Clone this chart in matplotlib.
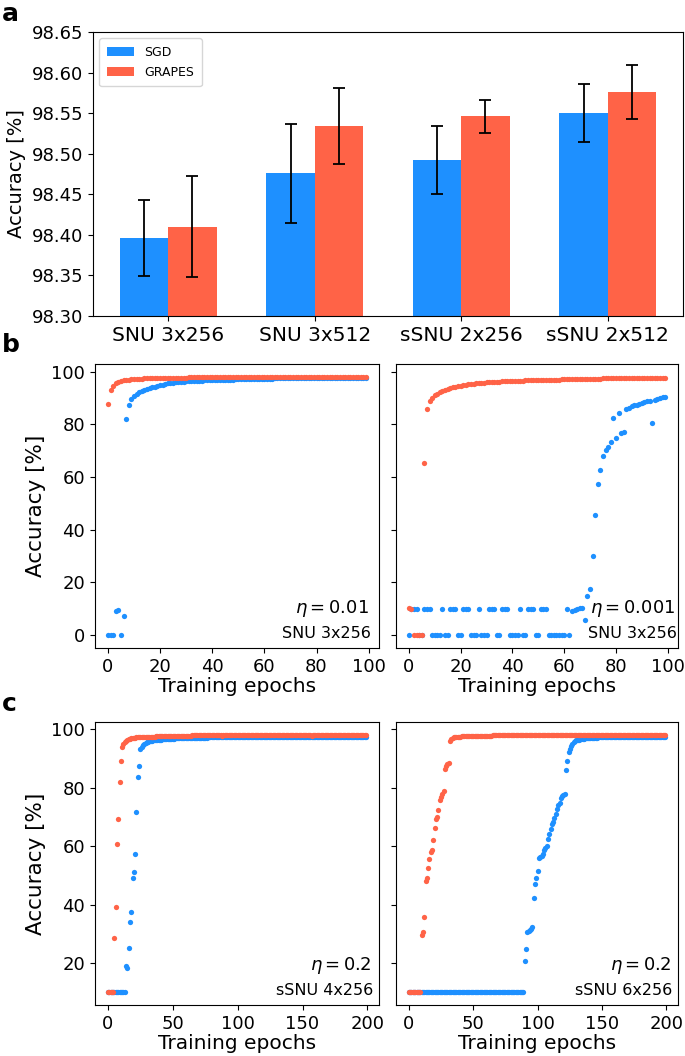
import numpy as np
import matplotlib
matplotlib.use('Agg')
import matplotlib.pyplot as plt

# ---- panel a: final accuracy ----
cats = ['SNU 3x256', 'SNU 3x512', 'sSNU 2x256', 'sSNU 2x512']
sgd_mean = [98.396, 98.476, 98.492, 98.550]
sgd_err = [0.047, 0.061, 0.042, 0.036]
grapes_mean = [98.410, 98.534, 98.546, 98.576]
grapes_err = [0.062, 0.047, 0.020, 0.033]

# ---- panel b: SNU 3x256, 100 epochs ----
b1_sgd = [
    0.0, 0.0, 0.0, 9.0, 9.6, 0.0, 7.3, 82.0, 87.3, 89.7,
    90.9, 91.6, 92.1, 92.6, 93.0, 93.3, 93.7, 94.0, 94.3, 94.6,
    94.9, 95.1, 95.3, 95.5, 95.6, 95.8, 95.9, 96.0, 96.1, 96.2,
    96.3, 96.3, 96.4, 96.5, 96.5, 96.6, 96.6, 96.7, 96.7, 96.8,
    96.8, 96.8, 96.9, 96.9, 96.9, 97.0, 97.0, 97.0, 97.0, 97.1,
    97.1, 97.1, 97.1, 97.2, 97.2, 97.2, 97.2, 97.2, 97.3, 97.3,
    97.3, 97.3, 97.3, 97.3, 97.4, 97.4, 97.4, 97.4, 97.4, 97.4,
    97.4, 97.5, 97.5, 97.5, 97.5, 97.5, 97.5, 97.5, 97.5, 97.6,
    97.6, 97.6, 97.6, 97.6, 97.6, 97.6, 97.6, 97.6, 97.6, 97.6,
    97.6, 97.6, 97.6, 97.7, 97.7, 97.7, 97.7, 97.7, 97.7, 97.7]
b1_grapes = [
    87.8, 92.9, 94.6, 95.7, 96.2, 96.5, 96.7, 96.9, 97.0, 97.1,
    97.2, 97.2, 97.3, 97.3, 97.4, 97.4, 97.4, 97.5, 97.5, 97.5,
    97.5, 97.6, 97.6, 97.6, 97.6, 97.7, 97.7, 97.7, 97.7, 97.7,
    97.7, 97.8, 97.8, 97.8, 97.8, 97.8, 97.8, 97.8, 97.8, 97.8,
    97.8, 97.8, 97.8, 97.8, 97.8, 97.8, 97.8, 97.8, 97.8, 97.8,
    97.8, 97.9, 97.9, 97.9, 97.9, 97.9, 97.9, 97.9, 97.9, 97.9,
    97.9, 97.9, 97.9, 97.9, 97.9, 97.9, 97.9, 97.9, 97.9, 97.9,
    98.0, 98.0, 98.0, 98.0, 98.0, 98.0, 98.0, 98.0, 98.0, 98.0,
    98.0, 98.0, 98.0, 98.0, 98.0, 98.0, 98.0, 98.0, 98.0, 98.0,
    98.0, 98.0, 98.0, 98.0, 98.0, 98.0, 98.0, 98.0, 98.0, 98.0]
b2_sgd = [
    0.0, 9.8, 9.8, 9.8, 0.0, 0.0, 9.8, 9.8, 9.8, 0.0,
    0.0, 0.0, 0.0, 9.8, 0.0, 0.0, 9.8, 9.8, 9.8, 0.0,
    0.0, 9.8, 9.8, 9.8, 0.0, 0.0, 0.0, 9.8, 0.0, 0.0,
    0.0, 9.8, 9.8, 9.8, 0.0, 0.0, 9.8, 9.8, 9.8, 0.0,
    0.0, 0.0, 0.0, 9.8, 0.0, 0.0, 9.8, 9.8, 9.8, 0.0,
    0.0, 9.8, 9.8, 9.8, 0.0, 0.0, 0.0, 0.0, 0.0, 0.0,
    0.0, 9.8, 0.0, 9.0, 9.4, 9.9, 10.1, 10.3, 5.8, 15.0,
    17.5, 30.2, 45.4, 57.5, 62.8, 67.9, 70.4, 71.4, 73.2, 82.5,
    74.9, 84.4, 76.8, 77.0, 85.9, 86.3, 86.8, 87.2, 87.5, 87.8,
    88.2, 88.5, 88.7, 89.0, 80.6, 89.4, 89.7, 90.0, 90.2, 90.3]
b2_grapes = [
    10.2, 9.8, 0.0, 0.0, 0.0, 0.0, 65.4, 85.9, 88.7, 90.1,
    91.0, 91.7, 92.3, 92.8, 93.2, 93.5, 93.8, 94.1, 94.3, 94.5,
    94.7, 94.9, 95.0, 95.2, 95.3, 95.4, 95.5, 95.6, 95.7, 95.8,
    95.9, 96.0, 96.0, 96.1, 96.2, 96.2, 96.3, 96.3, 96.4, 96.4,
    96.5, 96.5, 96.6, 96.6, 96.6, 96.7, 96.7, 96.7, 96.8, 96.8,
    96.8, 96.9, 96.9, 96.9, 96.9, 97.0, 97.0, 97.0, 97.0, 97.1,
    97.1, 97.1, 97.1, 97.1, 97.2, 97.2, 97.2, 97.2, 97.2, 97.3,
    97.3, 97.3, 97.3, 97.3, 97.3, 97.4, 97.4, 97.4, 97.4, 97.4,
    97.4, 97.5, 97.5, 97.5, 97.5, 97.5, 97.5, 97.5, 97.6, 97.6,
    97.6, 97.6, 97.6, 97.6, 97.6, 97.7, 97.7, 97.7, 97.7, 97.7]

# ---- panel c: sSNU 4x256 / 6x256, 200 epochs ----
c1_sgd = [
    10.1, 10.1, 10.1, 10.1, 10.1, 10.1, 10.1, 10.1, 10.1, 10.1, 10.1, 10.1, 10.1, 10.1, 18.9, 18.3, 25.1, 34.2, 37.6, 49.1,
    51.2, 57.4, 71.7, 83.5, 87.2, 93.1, 94.0, 94.6, 95.0, 95.3, 95.5, 95.7, 95.8, 95.9, 96.0, 96.1, 96.2, 96.2, 96.3, 96.3,
    96.4, 96.4, 96.5, 96.5, 96.5, 96.6, 96.6, 96.6, 96.7, 96.7, 96.7, 96.7, 96.8, 96.8, 96.8, 96.8, 96.8, 96.9, 96.9, 96.9,
    96.9, 96.9, 96.9, 96.9, 97.0, 97.0, 97.0, 97.0, 97.0, 97.0, 97.0, 97.0, 97.0, 97.0, 97.0, 97.0, 97.0, 97.1, 97.1, 97.1,
    97.1, 97.1, 97.1, 97.1, 97.1, 97.1, 97.1, 97.1, 97.1, 97.1, 97.1, 97.1, 97.1, 97.1, 97.1, 97.1, 97.1, 97.1, 97.1, 97.1,
    97.1, 97.1, 97.1, 97.1, 97.1, 97.2, 97.2, 97.2, 97.2, 97.2, 97.2, 97.2, 97.2, 97.2, 97.2, 97.2, 97.2, 97.2, 97.2, 97.2,
    97.2, 97.2, 97.2, 97.2, 97.2, 97.2, 97.2, 97.2, 97.2, 97.2, 97.2, 97.2, 97.2, 97.2, 97.2, 97.2, 97.2, 97.2, 97.2, 97.2,
    97.2, 97.2, 97.2, 97.2, 97.2, 97.2, 97.2, 97.2, 97.2, 97.2, 97.3, 97.3, 97.3, 97.3, 97.3, 97.3, 97.3, 97.3, 97.3, 97.3,
    97.3, 97.3, 97.3, 97.3, 97.3, 97.3, 97.3, 97.3, 97.3, 97.3, 97.3, 97.3, 97.3, 97.3, 97.3, 97.3, 97.3, 97.3, 97.3, 97.3,
    97.3, 97.3, 97.3, 97.3, 97.3, 97.3, 97.3, 97.3, 97.3, 97.3, 97.3, 97.3, 97.3, 97.3, 97.3, 97.3, 97.3, 97.3, 97.3, 97.3]
c1_grapes = [
    10.1, 10.1, 10.1, 10.1, 10.1, 28.5, 39.3, 60.7, 69.1, 81.9, 89.1, 93.8, 95.0, 95.6, 96.0, 96.3, 96.5, 96.7, 96.8, 96.9,
    97.0, 97.0, 97.1, 97.1, 97.1, 97.2, 97.2, 97.2, 97.3, 97.3, 97.3, 97.3, 97.4, 97.4, 97.4, 97.4, 97.4, 97.5, 97.5, 97.5,
    97.5, 97.5, 97.5, 97.6, 97.6, 97.6, 97.6, 97.6, 97.6, 97.6, 97.7, 97.7, 97.7, 97.7, 97.7, 97.7, 97.7, 97.7, 97.7, 97.7,
    97.7, 97.7, 97.7, 97.7, 97.7, 97.8, 97.8, 97.8, 97.8, 97.8, 97.8, 97.8, 97.8, 97.8, 97.8, 97.8, 97.8, 97.8, 97.8, 97.8,
    97.8, 97.8, 97.8, 97.8, 97.8, 97.8, 97.8, 97.8, 97.5, 97.8, 97.8, 97.8, 97.8, 97.8, 97.8, 97.8, 97.9, 97.9, 97.9, 97.9,
    97.9, 97.9, 97.9, 97.9, 97.9, 97.9, 97.9, 97.9, 97.9, 97.9, 97.9, 97.9, 97.9, 97.9, 97.9, 97.9, 97.9, 97.9, 97.9, 97.9,
    97.9, 97.9, 97.9, 97.9, 97.9, 97.9, 97.9, 97.9, 97.9, 97.9, 97.9, 97.9, 97.9, 97.9, 97.9, 97.9, 97.9, 97.9, 97.9, 97.9,
    97.9, 97.9, 97.9, 97.9, 97.9, 97.9, 97.9, 97.9, 97.9, 97.9, 97.9, 97.9, 97.9, 97.9, 97.9, 97.9, 97.9, 97.6, 97.9, 97.9,
    97.9, 98.0, 98.0, 98.0, 98.0, 98.0, 98.0, 98.0, 98.0, 98.0, 98.0, 98.0, 98.0, 98.0, 98.0, 98.0, 98.0, 98.0, 98.0, 98.0,
    98.0, 98.0, 98.0, 98.0, 98.0, 98.0, 98.0, 98.0, 98.0, 98.0, 98.0, 98.0, 98.0, 98.0, 98.0, 98.0, 98.0, 98.0, 98.0, 98.0]
c2_sgd = [
    10.1, 10.1, 10.1, 10.1, 10.1, 10.1, 10.1, 10.1, 10.1, 10.1, 10.1, 10.1, 10.1, 10.1, 10.1, 10.1, 10.1, 10.1, 10.1, 10.1,
    10.1, 10.1, 10.1, 10.1, 10.1, 10.1, 10.1, 10.1, 10.1, 10.1, 10.1, 10.1, 10.1, 10.1, 10.1, 10.1, 10.1, 10.1, 10.1, 10.1,
    10.1, 10.1, 10.1, 10.1, 10.1, 10.1, 10.1, 10.1, 10.1, 10.1, 10.1, 10.1, 10.1, 10.1, 10.1, 10.1, 10.1, 10.1, 10.1, 10.1,
    10.1, 10.1, 10.1, 10.1, 10.1, 10.1, 10.1, 10.1, 10.1, 10.1, 10.1, 10.1, 10.1, 10.1, 10.1, 10.1, 10.1, 10.1, 10.1, 10.1,
    10.1, 10.1, 10.1, 10.1, 10.1, 10.1, 10.1, 10.1, 10.1, 10.1, 20.9, 24.7, 30.5, 30.9, 31.3, 31.8, 32.2, 42.4, 47.2, 49.2,
    51.5, 55.8, 56.2, 56.6, 57.4, 58.5, 59.4, 60.0, 62.3, 64.0, 66.0, 67.4, 68.2, 69.6, 70.8, 72.5, 74.0, 74.7, 76.5, 77.2,
    77.6, 77.9, 86.1, 88.9, 92.3, 93.1, 94.3, 95.0, 95.5, 95.9, 96.1, 96.3, 96.4, 96.5, 96.6, 96.7, 96.7, 96.8, 96.8, 96.9,
    96.9, 96.9, 97.0, 97.0, 97.0, 97.0, 97.0, 97.1, 97.1, 97.1, 97.1, 97.1, 97.1, 97.1, 97.1, 97.2, 97.2, 97.2, 97.2, 97.2,
    97.2, 97.2, 97.2, 97.2, 97.2, 97.2, 97.2, 97.2, 97.3, 97.3, 97.3, 97.3, 97.3, 97.3, 97.3, 97.3, 97.3, 97.3, 97.3, 97.3,
    97.3, 97.3, 97.3, 97.3, 97.3, 97.3, 97.3, 97.3, 97.3, 97.3, 97.3, 97.3, 97.3, 97.3, 97.3, 97.3, 97.3, 97.3, 97.3, 97.3]
c2_grapes = [
    10.1, 10.1, 10.1, 10.1, 10.1, 10.1, 10.1, 10.1, 10.1, 10.1, 29.6, 30.5, 35.9, 48.1, 49.2, 52.5, 55.5, 58.1, 58.6, 62.0,
    66.2, 69.1, 70.0, 72.2, 75.6, 76.8, 77.8, 78.9, 86.3, 87.2, 87.9, 88.4, 96.0, 96.6, 96.9, 97.1, 97.2, 97.3, 97.3, 97.4,
    97.4, 97.5, 97.5, 97.5, 97.5, 97.6, 97.6, 97.6, 97.6, 97.6, 97.6, 97.7, 97.7, 97.7, 97.7, 97.7, 97.7, 97.7, 97.7, 97.7,
    97.7, 97.7, 97.7, 97.7, 97.7, 97.8, 97.8, 97.8, 97.8, 97.8, 97.8, 97.8, 97.8, 97.8, 97.8, 97.8, 97.8, 97.8, 97.8, 97.8,
    97.8, 97.8, 97.8, 97.8, 97.8, 97.8, 97.8, 97.8, 97.8, 97.8, 97.8, 97.8, 97.8, 97.8, 97.8, 97.8, 97.8, 97.8, 97.8, 97.8,
    97.8, 97.8, 97.8, 97.8, 97.8, 97.8, 97.8, 97.8, 97.8, 97.8, 97.8, 97.8, 97.8, 97.8, 97.8, 97.8, 97.8, 97.8, 97.8, 97.8,
    97.9, 97.9, 97.9, 97.9, 97.9, 97.9, 97.9, 97.9, 97.9, 97.9, 97.9, 97.9, 97.9, 97.9, 97.9, 97.9, 97.9, 97.9, 97.9, 97.9,
    97.9, 97.9, 97.9, 97.9, 97.9, 97.9, 97.9, 97.9, 97.9, 97.9, 97.9, 97.9, 97.9, 97.9, 97.9, 97.9, 97.9, 97.9, 97.9, 97.9,
    97.9, 97.9, 97.9, 97.9, 97.9, 97.9, 97.9, 97.9, 97.9, 97.9, 97.9, 97.9, 97.9, 97.9, 97.9, 97.9, 97.9, 97.9, 97.9, 97.9,
    97.9, 97.9, 97.9, 97.9, 97.9, 97.9, 97.9, 97.9, 97.9, 97.9, 97.9, 97.9, 97.9, 97.9, 97.9, 97.9, 97.9, 97.9, 97.9, 97.9]

blue = 'dodgerblue'
red = 'tomato'

fig = plt.figure(figsize=(6.85, 10.56), dpi=100)
W, H = 685.0, 1056.0


def rect(x0, x1, y0, y1):
    # pixel box (top-left origin) -> figure fraction
    return [x0 / W, 1 - y1 / H, (x1 - x0) / W, (y1 - y0) / H]


# panel a
ax = fig.add_axes(rect(93, 683, 32, 316))
x = np.arange(len(cats))
w = 0.33
ax.bar(x - w / 2, sgd_mean, w, yerr=sgd_err, color=blue, label='SGD',
       capsize=4, error_kw=dict(elinewidth=1.3, capthick=1.3))
ax.bar(x + w / 2, grapes_mean, w, yerr=grapes_err, color=red, label='GRAPES',
       capsize=4, error_kw=dict(elinewidth=1.3, capthick=1.3))
ax.set_ylim(98.30, 98.65)
ax.set_yticks(np.arange(98.30, 98.651, 0.05))
ax.set_yticklabels(['%.2f' % v for v in np.arange(98.30, 98.651, 0.05)])
ax.set_xticks(x)
ax.set_xticklabels(cats)
ax.tick_params(axis='y', labelsize=13)
ax.tick_params(axis='x', labelsize=14.5)
ax.set_ylabel('Accuracy [%]', fontsize=14)
ax.legend(loc='upper left', fontsize=9, handlelength=2.2, borderpad=0.6,
          labelspacing=0.55)
fig.text(0.003, 0.998, 'a', fontsize=18, fontweight='bold', va='top')


def curve_panel(box, sgd, grapes, eta, name, first, txt_x, xticks):
    ax = fig.add_axes(box)
    ep = np.arange(len(sgd))
    ax.plot(ep, sgd, 'o', ms=3.8, color=blue, mew=0)
    ax.plot(ep, grapes, 'o', ms=3.8, color=red, mew=0)
    ax.set_xticks(xticks)
    ax.tick_params(labelsize=13)
    ax.set_xlabel('Training epochs', fontsize=14.5, labelpad=1)
    if first:
        ax.set_ylabel('Accuracy [%]', fontsize=15.5)
    else:
        ax.tick_params(labelleft=False)
    ax.text(txt_x, 0.14, r'$\eta = %s$' % eta, transform=ax.transAxes,
            ha='right', va='center', fontsize=13)
    ax.text(txt_x + 0.005, 0.05, name, transform=ax.transAxes,
            ha='right', va='center', fontsize=11.5)
    return ax


ticks_b = [0, 20, 40, 60, 80, 100]
ticks_c = [0, 50, 100, 150, 200]
b1 = curve_panel(rect(95, 379, 364, 648), b1_sgd, b1_grapes, '0.01', 'SNU 3x256', True, 0.965, ticks_b)
b2 = curve_panel(rect(396, 678, 364, 648), b2_sgd, b2_grapes, '0.001', 'SNU 3x256', False, 0.99, ticks_b)
b2.set_ylim(b1.get_ylim())
b1.set_yticks([0, 20, 40, 60, 80, 100])
b2.set_yticks([0, 20, 40, 60, 80, 100])
fig.text(0.003, 0.685, 'b', fontsize=18, fontweight='bold', va='top')

c1 = curve_panel(rect(95, 379, 722, 1005), c1_sgd, c1_grapes, '0.2', 'sSNU 4x256', True, 0.975, ticks_c)
c2 = curve_panel(rect(396, 678, 722, 1005), c2_sgd, c2_grapes, '0.2', 'sSNU 6x256', False, 0.975, ticks_c)
c2.set_ylim(c1.get_ylim())
c1.set_yticks([20, 40, 60, 80, 100])
c2.set_yticks([20, 40, 60, 80, 100])
fig.text(0.003, 0.345, 'c', fontsize=18, fontweight='bold', va='top')

fig.savefig('out.png', dpi=100)
